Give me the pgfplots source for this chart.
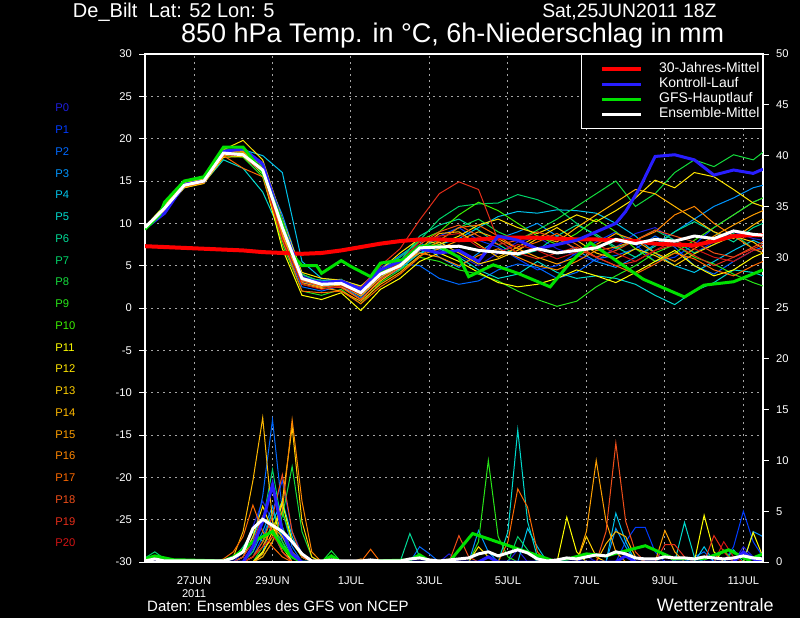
\documentclass[border=0pt]{standalone}
\usepackage{pgfplots}
\pgfplotsset{compat=1.18}
\usepackage{fontspec}
\setmainfont{Liberation Sans}
\definecolor{cP0}{RGB}{30,30,220}
\definecolor{cP1}{RGB}{0,60,255}
\definecolor{cP2}{RGB}{0,105,255}
\definecolor{cP3}{RGB}{0,150,255}
\definecolor{cP4}{RGB}{0,195,235}
\definecolor{cP5}{RGB}{0,218,205}
\definecolor{cP6}{RGB}{0,218,150}
\definecolor{cP7}{RGB}{0,212,105}
\definecolor{cP8}{RGB}{20,220,60}
\definecolor{cP9}{RGB}{40,230,25}
\definecolor{cP10}{RGB}{60,240,0}
\definecolor{cP11}{RGB}{255,255,0}
\definecolor{cP12}{RGB}{255,230,0}
\definecolor{cP13}{RGB}{255,208,0}
\definecolor{cP14}{RGB}{255,185,0}
\definecolor{cP15}{RGB}{255,160,0}
\definecolor{cP16}{RGB}{255,135,0}
\definecolor{cP17}{RGB}{252,105,0}
\definecolor{cP18}{RGB}{240,78,25}
\definecolor{cP19}{RGB}{228,45,25}
\definecolor{cP20}{RGB}{210,20,20}
\definecolor{gridgray}{RGB}{165,165,165}
\definecolor{ctlblue}{RGB}{40,30,255}
\definecolor{gfsgreen}{RGB}{0,225,0}
\definecolor{climred}{RGB}{255,0,0}
\newcommand{\tickfont}{\fontsize{5.6}{6.1}\selectfont}
\pgfplotsset{mem/.style={line width=0.5pt, forget plot},
         fat/.style={line width=1.5pt, forget plot}}
\begin{document}
\begin{tikzpicture}[x=1pt,y=1pt]
\path[use as bounding box] (0pt,0pt) rectangle (400pt,309pt);
\fill[black] (0pt,0pt) rectangle (400pt,309pt);
% titles
\node[anchor=base west, text=white, font=\fontsize{10}{11}\selectfont, inner sep=0] at (36.3pt,300.2pt) {De\_Bilt\ \ Lat: 52 Lon: 5};
\node[anchor=base east, text=white, font=\fontsize{9.7}{10.5}\selectfont, inner sep=0] at (358.5pt,300.2pt) {Sat,25JUN2011 18Z};
\node[anchor=base, text=white, font=\fontsize{13.5}{15}\selectfont, inner sep=0] at (226.3pt,287.8pt) {850 hPa Temp. in °C, 6h-Niederschlag in mm};
\node[anchor=base west, text=white, font=\fontsize{7.5}{8.5}\selectfont, inner sep=0] at (73.4pt,3.2pt) {Daten: Ensembles des GFS von NCEP};
\node[anchor=base east, text=white, font=\fontsize{9}{10}\selectfont, inner sep=0] at (387pt,3.2pt) {Wetterzentrale};
\foreach \i in {0,...,20} {\node[anchor=west, text=cP\i, font=\fontsize{5.6}{6}\selectfont, inner sep=0] at (27.5pt,{(255-\i*10.875)*1pt}) {P\i};}
% ---------- grid axis ----------
\begin{axis}[at={(72.5pt,28pt)}, anchor=south west, width=309pt, height=254pt, scale only axis,
  xmin=0, xmax=63, ymin=-30, ymax=30,
  axis line style={draw=none}, tick style={draw=none},
  xtick={5,13,21,29,37,45,53,61}, ytick={-25,-20,...,25},
  xticklabels={}, yticklabels={},
  xmajorgrids, ymajorgrids,
  grid style={gridgray, line width=0.5pt, dash pattern=on 1pt off 2pt}]
\addplot[draw=none, forget plot] coordinates {(0,0)};
\end{axis}
% ---------- precipitation axis (right) ----------
\begin{axis}[at={(72.5pt,28pt)}, anchor=south west, width=309pt, height=254pt, scale only axis,
  xmin=0, xmax=63, ymin=0, ymax=50, no markers,
  axis x line=none, axis y line*=right,
  y axis line style={white, line width=1pt, -},
  ytick={0,5,...,50},
  yticklabel style={text=white, font=\tickfont, /pgf/number format/assume math mode=true},
  major tick length=3pt, tick align=outside,
  ytick style={white, line width=0.5pt}]
\addplot[mem, cP0] coordinates {(0,0)(9,0)(10,1.0)(11,3.5)(12,6.0)(13,4.0)(14,1.5)(15,0.5)(16,0)(30,0)(31,0.8)(32,0)(37,0)(38,1.2)(39,0)(44,0)(45,0.6)(46,0)(60,0)(61,1.5)(62,0.5)(63,0)};
\addplot[mem, cP1] coordinates {(0,0)(10,0)(11,0.5)(12,2.5)(13,5.0)(14,8.0)(15,3.0)(16,0.8)(17,0)(48,0)(49,2.0)(50,3.4)(51,3.4)(52,1.0)(53,0)(59,0)(60,1.5)(61,5.0)(62,2.0)(63,0.5)};
\addplot[mem, cP2] coordinates {(0,0)(9,0)(10,0.5)(11,2.0)(12,6.5)(13,14.0)(14,5.0)(15,1.5)(16,0)(27,0)(28,1.5)(29,0.8)(30,0)(55,0)(56,0.5)(57,1.0)(58,0)(63,0)};
\addplot[mem, cP3] coordinates {(0,0)(10,0)(11,1.0)(12,3.0)(13,5.5)(14,2.0)(15,0)(33,0)(34,3.1)(35,1.0)(36,0)(47,0)(48,3.3)(49,1.5)(50,0)(61,0)(62,3.0)(63,2.5)};
\addplot[mem, cP4] coordinates {(0,0)(11,0)(12,1.0)(13,4.0)(14,6.0)(15,2.5)(16,0.5)(17,0)(38,0)(39,3.3)(40,1.5)(41,0)(47,0)(48,4.8)(49,2.0)(50,0)(56,0)(57,1.5)(58,0)(63,0)};
\addplot[mem, cP5] coordinates {(0,0)(9,0)(10,0.5)(11,2.5)(12,4.5)(13,3.0)(14,1.0)(15,0)(36,0)(37,3.0)(38,13.0)(39,4.0)(40,0.5)(41,0)(54,0)(55,3.9)(56,0.5)(57,0)(63,0)};
\addplot[mem, cP6] coordinates {(0,0)(8,0)(9,0.3)(10,1.5)(11,3.0)(12,2.0)(13,5.0)(14,2.5)(15,0.5)(16,0)(26,0)(27,2.8)(28,0.5)(29,0)(59,0)(60,1.2)(61,0)(63,0)};
\addplot[mem, cP7] coordinates {(0,0.4)(1,1.0)(2,0.3)(3,0)(10,0)(11,1.0)(12,4.0)(13,9.1)(14,3.5)(15,1.0)(16,0)(37,0)(38,2.5)(39,1.2)(40,0)(63,0)};
\addplot[mem, cP8] coordinates {(0,0)(11,0)(12,0.5)(13,2.0)(14,4.5)(15,9.4)(16,3.0)(17,0.5)(18,0)(19,1.1)(20,0)(63,0)};
\addplot[mem, cP9] coordinates {(0,0)(11,0)(12,1.5)(13,3.5)(14,2.0)(15,0.5)(16,0)(33,0)(34,2.0)(35,10.0)(36,2.5)(37,0.5)(38,0)(52,0)(53,0.8)(54,0)(63,0)};
\addplot[mem, cP10] coordinates {(0,0.2)(1,0.6)(2,0)(10,0)(11,0.5)(12,2.0)(13,3.5)(14,5.0)(15,2.0)(16,0.5)(17,0)(58,0)(59,1.2)(60,0)(63,0)};
\addplot[mem, cP11] coordinates {(0,0)(11,0)(12,1.0)(13,2.5)(14,5.8)(15,2.0)(16,0.5)(17,0)(42,0)(43,4.4)(44,1.0)(45,0)(56,0)(57,4.6)(58,1.0)(59,0)(61,0)(62,2.9)(63,0.5)};
\addplot[mem, cP12] coordinates {(0,0)(9,0)(10,0.5)(11,2.5)(12,5.5)(13,3.0)(14,1.5)(15,0)(33,0)(34,1.5)(35,0.5)(36,0)(63,0)};
\addplot[mem, cP13] coordinates {(0,0)(11,0)(12,0.8)(13,3.0)(14,6.0)(15,13.3)(16,4.0)(17,0.5)(18,0)(44,0)(45,2.5)(46,0.5)(47,0)(63,0)};
\addplot[mem, cP14] coordinates {(0,0)(8,0)(9,0.5)(10,3.0)(11,8.0)(12,14.2)(13,4.0)(14,1.0)(15,0)(46,0)(47,1.8)(48,3.0)(49,2.5)(50,0.5)(51,0)(63,0)};
\addplot[mem, cP15] coordinates {(0,0)(10,0)(11,0.5)(12,1.5)(13,3.5)(14,2.5)(15,1.0)(16,0)(44,0)(45,3.0)(46,10.0)(47,4.0)(48,1.0)(49,0)(52,0)(53,3.1)(54,1.0)(55,0)(63,0)};
\addplot[mem, cP16] coordinates {(0,0)(11,0)(12,0.5)(13,2.0)(14,5.0)(15,14.0)(16,6.0)(17,1.0)(18,0)(21,0)(22,0.3)(23,0)(63,0)};
\addplot[mem, cP17] coordinates {(0,0)(7,0)(8,0.3)(9,1.0)(10,2.5)(11,5.6)(12,3.0)(13,1.5)(14,0.5)(15,0)(22,0)(23,1.25)(24,0)(36,0)(37,2.0)(38,7.2)(39,5.4)(40,1.0)(41,0)(63,0)};
\addplot[mem, cP18] coordinates {(0,0)(10,0)(11,0.5)(12,2.0)(13,4.5)(14,8.6)(15,3.0)(16,0.5)(17,0)(31,0)(32,2.6)(33,0.5)(34,0)(46,0)(47,3.0)(48,11.7)(49,4.0)(50,1.0)(51,0)(63,0)};
\addplot[mem, cP19] coordinates {(0,0)(9,0)(10,0.5)(11,2.0)(12,4.5)(13,3.0)(14,1.0)(15,0)(52,0)(53,1.7)(54,1.7)(55,0.5)(56,0)(57,0)(58,2.6)(59,1.0)(60,0)(63,0)};
\addplot[mem, cP20] coordinates {(0,0)(10,0)(11,0.5)(12,1.5)(13,2.5)(14,1.5)(15,0.5)(16,0)(58,0)(59,2.0)(60,0.5)(61,0)(63,0)};
% GFS main run
\addplot[fat, gfsgreen] coordinates {(0,0.3)(1,0.6)(2,0.4)(3,0.2)(4,0.2)(8,0.1)(9,0.5)(10,1.2)(11,2.0)(12,2.5)(13,3.0)(14,1.5)(15,0.5)(16,0)(18,0)(19,0.6)(20,0)(27,0.2)(28,0.7)(29,0.1)(31,0)(33.4,2.8)(42,0)(45,0.8)(47,0.6)(51,1.6)(54,0.3)(57,0.3)(59.5,1.2)(61.5,0.2)(63,0.8)};
% control run
\addplot[fat, ctlblue] coordinates {(0,0)(10,0)(11,1.5)(12,4.0)(13,7.6)(14,3.0)(15,0.8)(16,0)(34,0)(35,0.5)(36,0)(48,0)(49,0.6)(50,0)(60,0)(61,1.0)(62,0.3)(63,0)};
% ensemble mean
\addplot[fat, white] coordinates {(0,0.1)(1,0.3)(2,0.1)(8,0.1)(9,0.4)(10,1.0)(11,3.3)(12,4.2)(13,3.6)(14,3.0)(15,2.0)(16,0.8)(17,0.1)(18,0.1)(19,0.2)(20,0.1)(22,0.1)(23,0.2)(24,0.1)(26,0.1)(27,0.3)(28,0.4)(29,0.2)(30,0.1)(32,0.3)(33,0.4)(34,0.8)(35,1.0)(36,0.6)(37,0.9)(38,1.2)(39,0.9)(40,0.3)(41,0.1)(42,0.2)(43,0.4)(44,0.3)(45,0.5)(46,0.7)(47,0.6)(48,1.0)(49,0.8)(50,0.4)(51,0.3)(52,0.3)(53,0.5)(54,0.4)(55,0.4)(56,0.3)(57,0.5)(58,0.4)(59,0.3)(60,0.4)(61,0.6)(62,0.4)(63,0.3)};
\end{axis}
% ---------- temperature axis (left) ----------
\begin{axis}[at={(72.5pt,28pt)}, anchor=south west, width=309pt, height=254pt, scale only axis,
  xmin=0, xmax=63, ymin=-30, ymax=30, no markers,
  axis line style={white, line width=1pt},
  ytick={-30,-25,...,30}, ytick pos=left,
  xtick={5,13,21,29,37,45,53,61},
  xticklabels={{27JUN\\2011},29JUN,1JUL,3JUL,5JUL,7JUL,9JUL,11JUL},
  xtick pos=bottom, xtick style={draw=none},
  ytick style={white, line width=0.5pt},
  major tick length=3pt, tick align=outside,
  yticklabel style={text=white, font=\tickfont, /pgf/number format/assume math mode=true},
  xticklabel style={text=white, font=\tickfont, align=center, yshift=-1pt},
  legend style={at={(1,1)}, anchor=north east, fill=black, draw=white, line width=0.5pt, text=white,
    font=\fontsize{7}{8}\selectfont, inner xsep=1pt, inner ysep=3.6pt, row sep=0pt,
    nodes={inner sep=0.5pt},
    /tikz/every odd column/.append style={column sep=6pt},
    /tikz/every even column/.append style={text height=5pt, text depth=1.2pt}},
  legend cell align=left,
  legend image code/.code={\path (-8.5pt,0pt) (21pt,0pt); \draw[#1] (0pt,0pt) -- (19.5pt,0pt);}]
\addlegendimage{climred, line width=2pt}
\addlegendentry{30-Jahres-Mittel}
\addlegendimage{ctlblue, line width=1.5pt}
\addlegendentry{Kontroll-Lauf}
\addlegendimage{gfsgreen, line width=1.5pt}
\addlegendentry{GFS-Hauptlauf}
\addlegendimage{white, line width=1.5pt}
\addlegendentry{Ensemble-Mittel}
\addplot[mem, cP0] coordinates {(0,9.4)(2,11.5)(4,14.3)(6,15.1)(8,18.0)(10,18.9)(12,17.2)(14,10.5)(16,3.8)(18,3.2)(20,3.3)(22,2.5)(24,4.8)(26,6.0)(28,7.5)(30,6.8)(32,6.2)(34,5.0)(36,6.5)(38,7.8)(40,8.4)(42,7.0)(44,6.2)(46,5.5)(48,7.2)(50,8.8)(52,9.5)(54,8.0)(56,6.5)(58,7.8)(60,9.0)(62,8.2)(63,8.0)};
\addplot[mem, cP1] coordinates {(0,9.5)(2,11.9)(4,14.6)(6,15.2)(8,18.6)(10,18.5)(12,16.8)(14,9.0)(16,3.0)(18,2.5)(20,3.0)(22,1.8)(24,3.5)(26,4.5)(28,6.8)(30,8.5)(32,9.5)(34,8.0)(36,7.2)(38,5.8)(40,4.5)(42,5.0)(44,6.5)(46,7.8)(48,9.0)(50,7.5)(52,5.5)(54,6.0)(56,7.5)(58,9.5)(60,11.0)(62,12.5)(63,13.0)};
\addplot[mem, cP2] coordinates {(0,9.6)(2,11.6)(4,14.4)(6,14.8)(8,18.2)(10,18.0)(12,15.8)(14,8.0)(16,2.5)(18,2.0)(20,2.6)(22,1.2)(24,3.8)(26,5.2)(28,5.0)(30,3.5)(32,2.8)(34,3.2)(36,4.5)(38,5.2)(40,4.8)(42,3.5)(44,4.2)(46,5.8)(48,6.2)(50,7.0)(52,8.5)(54,7.2)(56,5.0)(58,4.0)(60,5.5)(62,6.8)(63,7.2)};
\addplot[mem, cP3] coordinates {(0,9.5)(2,11.8)(4,14.7)(6,15.0)(8,18.4)(10,18.3)(12,16.5)(14,11.0)(16,4.0)(18,3.0)(20,2.8)(22,2.0)(24,4.5)(26,6.2)(28,7.8)(30,6.0)(32,4.8)(34,6.5)(36,8.2)(38,9.0)(40,10.0)(42,8.5)(44,6.8)(46,5.5)(48,4.8)(50,6.0)(52,7.5)(54,9.0)(56,10.5)(58,12.0)(60,13.0)(62,14.2)(63,14.5)};
\addplot[mem, cP4] coordinates {(0,9.5)(2,11.7)(4,14.5)(6,15.3)(8,18.5)(10,18.7)(12,18.0)(14,16.0)(16,5.5)(18,3.5)(20,3.2)(22,2.6)(24,4.2)(26,5.0)(28,6.5)(30,7.5)(32,8.2)(34,9.5)(36,10.8)(38,11.4)(40,11.2)(42,11.6)(44,11.5)(46,11.2)(48,10.0)(50,8.5)(52,6.5)(54,5.0)(56,4.2)(58,5.5)(60,6.8)(62,8.0)(63,7.5)};
\addplot[mem, cP5] coordinates {(0,9.4)(2,11.6)(4,14.2)(6,14.8)(8,17.5)(10,16.5)(12,13.7)(14,8.5)(16,3.5)(18,3.3)(20,3.0)(22,2.2)(24,3.8)(26,4.6)(28,6.5)(30,7.0)(32,6.0)(34,4.5)(36,3.5)(38,4.0)(40,5.5)(42,4.2)(44,3.5)(46,3.8)(48,3.5)(50,2.8)(52,1.5)(54,0.4)(56,2.0)(58,3.0)(60,4.5)(62,4.2)(63,3.8)};
\addplot[mem, cP6] coordinates {(0,9.5)(2,11.9)(4,14.6)(6,15.1)(8,18.3)(10,18.2)(12,16.0)(14,8.5)(16,3.2)(18,2.6)(20,2.9)(22,1.5)(24,3.9)(26,5.5)(28,8.5)(30,9.8)(32,10.5)(34,9.2)(36,7.5)(38,6.2)(40,6.8)(42,8.5)(44,9.8)(46,8.7)(48,7.2)(50,6.0)(52,7.3)(54,9.0)(56,10.2)(58,9.0)(60,7.8)(62,9.5)(63,10.0)};
\addplot[mem, cP7] coordinates {(0,9.6)(2,12.0)(4,14.8)(6,15.2)(8,18.8)(10,18.6)(12,16.8)(14,9.8)(16,3.5)(18,2.7)(20,3.1)(22,2.2)(24,4.5)(26,6.0)(28,8.0)(30,10.5)(32,12.0)(34,12.3)(36,12.4)(38,13.4)(40,12.8)(42,11.8)(44,10.0)(46,8.5)(48,7.0)(50,8.0)(52,9.2)(54,8.0)(56,6.5)(58,7.5)(60,8.8)(62,7.0)(63,6.5)};
\addplot[mem, cP8] coordinates {(0,9.5)(2,12.2)(4,14.9)(6,15.3)(8,19.0)(10,19.0)(12,17.0)(14,10.0)(16,4.0)(18,3.1)(20,3.4)(22,2.0)(24,4.6)(26,5.6)(28,7.2)(30,8.0)(32,9.5)(34,10.5)(36,9.0)(38,8.0)(40,9.2)(42,10.5)(44,12.0)(46,13.5)(48,15.0)(50,12.0)(52,13.5)(54,16.0)(56,17.5)(58,16.7)(60,18.1)(62,17.5)(63,18.4)};
\addplot[mem, cP9] coordinates {(0,9.4)(2,11.7)(4,14.4)(6,14.9)(8,18.0)(10,17.8)(12,15.5)(14,7.5)(16,2.0)(18,1.5)(20,2.2)(22,0.5)(24,3.0)(26,4.5)(28,6.0)(30,5.5)(32,4.5)(34,4.0)(36,3.2)(38,2.0)(40,1.0)(42,0.2)(44,0.8)(46,2.5)(48,3.8)(50,5.0)(52,6.5)(54,7.5)(56,6.0)(58,5.2)(60,4.0)(62,3.0)(63,2.6)};
\addplot[mem, cP10] coordinates {(0,9.5)(2,11.9)(4,14.5)(6,15.0)(8,18.4)(10,18.3)(12,16.6)(14,9.2)(16,3.4)(18,2.9)(20,3.2)(22,1.9)(24,4.2)(26,5.3)(28,8.0)(30,9.0)(32,11.0)(34,12.5)(36,11.5)(38,10.0)(40,8.5)(42,7.5)(44,8.8)(46,10.5)(48,9.0)(50,7.0)(52,5.5)(54,6.5)(56,8.0)(58,9.5)(60,11.0)(62,12.5)(63,13.0)};
\addplot[mem, cP11] coordinates {(0,9.5)(2,11.6)(4,14.3)(6,14.8)(8,18.0)(10,18.2)(12,15.8)(14,7.0)(16,1.5)(18,1.0)(20,1.8)(22,-0.3)(24,2.2)(26,3.5)(28,5.5)(30,6.5)(32,5.5)(34,4.2)(36,3.0)(38,2.5)(40,2.8)(42,3.5)(44,4.5)(46,3.8)(48,3.0)(50,4.2)(52,5.5)(54,6.8)(56,5.0)(58,3.8)(60,4.5)(62,6.0)(63,6.5)};
\addplot[mem, cP12] coordinates {(0,9.6)(2,12.1)(4,14.8)(6,15.2)(8,18.7)(10,19.8)(12,17.5)(14,10.5)(16,4.2)(18,3.5)(20,3.3)(22,2.6)(24,4.5)(26,6.5)(28,8.2)(30,7.5)(32,8.5)(34,9.8)(36,10.5)(38,9.5)(40,8.8)(42,9.8)(44,11.0)(46,10.2)(48,11.5)(50,13.0)(52,15.1)(54,14.2)(56,16.0)(58,15.5)(60,14.0)(62,12.4)(63,12.0)};
\addplot[mem, cP13] coordinates {(0,9.4)(2,11.5)(4,14.2)(6,14.7)(8,17.8)(10,17.9)(12,16.0)(14,8.8)(16,2.8)(18,2.3)(20,2.5)(22,1.0)(24,3.2)(26,4.8)(28,6.8)(30,7.8)(32,6.5)(34,5.2)(36,5.8)(38,6.8)(40,8.2)(42,9.5)(44,8.0)(46,6.5)(48,5.8)(50,7.0)(52,6.2)(54,5.0)(56,6.4)(58,7.5)(60,8.5)(62,7.8)(63,7.0)};
\addplot[mem, cP14] coordinates {(0,9.5)(2,11.8)(4,14.6)(6,15.0)(8,18.5)(10,18.4)(12,16.9)(14,9.6)(16,3.3)(18,2.5)(20,2.7)(22,1.4)(24,3.6)(26,5.0)(28,7.0)(30,8.8)(32,9.0)(34,7.5)(36,6.0)(38,7.2)(40,8.5)(42,7.8)(44,9.5)(46,11.0)(48,12.5)(50,14.0)(52,13.5)(54,12.0)(56,10.5)(58,9.0)(60,8.2)(62,9.8)(63,10.5)};
\addplot[mem, cP15] coordinates {(0,9.5)(2,11.7)(4,14.4)(6,14.9)(8,18.1)(10,18.0)(12,16.2)(14,8.5)(16,3.0)(18,2.4)(20,2.0)(22,0.8)(24,2.8)(26,4.2)(28,6.2)(30,7.0)(32,8.0)(34,9.0)(36,8.2)(38,7.0)(40,6.0)(42,5.2)(44,6.0)(46,7.5)(48,8.8)(50,8.0)(52,6.5)(54,5.5)(56,7.0)(58,8.5)(60,9.8)(62,11.0)(63,11.5)};
\addplot[mem, cP16] coordinates {(0,9.6)(2,12.0)(4,14.7)(6,15.1)(8,18.6)(10,18.5)(12,17.0)(14,10.2)(16,3.6)(18,2.8)(20,3.0)(22,2.3)(24,4.0)(26,5.2)(28,6.5)(30,6.0)(32,5.0)(34,6.2)(36,7.0)(38,6.0)(40,5.0)(42,4.5)(44,5.5)(46,6.8)(48,7.2)(50,8.0)(52,9.0)(54,11.0)(56,12.0)(58,10.0)(60,8.5)(62,7.0)(63,6.5)};
\addplot[mem, cP17] coordinates {(0,9.4)(2,11.6)(4,14.3)(6,14.8)(8,18.0)(10,16.5)(12,15.5)(14,8.0)(16,2.0)(18,1.8)(20,2.0)(22,0.5)(24,2.5)(26,4.0)(28,6.0)(30,8.0)(32,9.5)(34,9.8)(36,8.5)(38,7.0)(40,7.8)(42,8.8)(44,7.5)(46,6.0)(48,5.0)(50,4.0)(52,5.2)(54,6.5)(56,5.8)(58,4.5)(60,3.8)(62,5.0)(63,5.5)};
\addplot[mem, cP18] coordinates {(0,9.5)(2,11.8)(4,14.5)(6,15.0)(8,18.2)(10,18.0)(12,16.4)(14,9.0)(16,3.2)(18,2.6)(20,2.4)(22,1.0)(24,3.4)(26,4.8)(28,7.5)(30,9.0)(32,9.8)(34,8.5)(36,7.5)(38,8.0)(40,9.0)(42,8.2)(44,7.0)(46,6.0)(48,6.8)(50,8.0)(52,9.2)(54,8.5)(56,7.8)(58,6.5)(60,6.0)(62,7.2)(63,7.8)};
\addplot[mem, cP19] coordinates {(0,9.5)(2,11.9)(4,14.6)(6,15.1)(8,18.4)(10,18.2)(12,16.5)(14,9.5)(16,3.5)(18,3.0)(20,3.2)(22,2.4)(24,5.0)(26,7.0)(28,10.4)(30,13.5)(32,14.9)(34,14.0)(36,8.0)(38,6.5)(40,5.8)(42,6.5)(44,7.2)(46,6.0)(48,5.0)(50,5.5)(52,6.8)(54,7.5)(56,6.2)(58,5.0)(60,6.0)(62,7.0)(63,7.5)};
\addplot[mem, cP20] coordinates {(0,9.4)(2,11.7)(4,14.4)(6,14.9)(8,18.1)(10,18.0)(12,16.0)(14,8.2)(16,2.8)(18,2.2)(20,2.6)(22,1.6)(24,3.8)(26,5.5)(28,7.8)(30,8.5)(32,8.8)(34,7.2)(36,6.5)(38,7.5)(40,6.8)(42,5.8)(44,6.6)(46,7.5)(48,6.5)(50,5.5)(52,6.8)(54,8.0)(56,7.0)(58,6.0)(60,5.5)(62,6.8)(63,7.0)};
% 30-year mean
\addplot[forget plot, climred, line width=2pt] coordinates {(0,7.3)(2,7.2)(4,7.1)(6,7.0)(8,6.9)(10,6.8)(12,6.6)(14,6.5)(16,6.4)(18,6.5)(20,6.8)(22,7.2)(24,7.6)(26,7.9)(28,8.1)(30,8.1)(32,8.0)(34,8.1)(36,8.3)(38,8.3)(40,8.3)(42,8.2)(44,8.1)(46,8.1)(48,8.0)(50,7.9)(52,7.6)(54,7.5)(56,7.4)(58,7.9)(60,8.5)(62,8.6)(63,8.6)};
% control run
\addplot[fat, ctlblue] coordinates {(0,9.4)(2,11.2)(4,14.6)(6,15.0)(8,18.5)(10,18.8)(12,17.0)(14,10.0)(16,3.5)(18,3.0)(20,3.2)(22,2.2)(24,4.5)(26,5.5)(28,7.0)(30,6.5)(32,6.8)(34,5.5)(36,8.5)(38,8.0)(40,7.0)(42,7.5)(44,8.0)(46,9.0)(48,10.0)(49,11.4)(50.4,14.1)(52,17.9)(54,18.1)(56,17.5)(58,15.7)(60,16.3)(62,15.9)(63,16.4)};
% GFS main run
\addplot[fat, gfsgreen] coordinates {(0,9.3)(1.5,11.0)(2,12.5)(4,15.0)(6,15.5)(8,19.0)(10,19.0)(12,16.0)(14,10.0)(15,6.3)(16,5.0)(17.5,5.0)(18,4.1)(20,5.6)(21,4.9)(23,3.7)(24,5.3)(26.3,5.7)(28,7.3)(30,7.3)(32,6.0)(33,3.7)(35.5,5.1)(38,4.1)(41.3,2.5)(43.3,5.3)(45.4,7.7)(47.4,6.1)(50.8,3.4)(55,1.3)(57,2.7)(60,3.1)(63,4.5)};
% ensemble mean
\addplot[fat, white] coordinates {(0,9.5)(2,11.8)(4,14.5)(6,15.0)(8,18.3)(10,18.1)(12,16.3)(14,9.5)(16,3.5)(18,2.8)(20,2.9)(22,1.8)(24,4.0)(26,5.0)(28,7.1)(30,7.2)(32,7.3)(34,6.8)(36,6.6)(38,6.4)(40,7.0)(42,6.5)(44,6.8)(46,7.1)(48,8.1)(50,7.6)(52,8.1)(54,7.9)(56,8.5)(58,8.2)(60,9.1)(62,8.7)(63,8.6)};
\end{axis}
\end{tikzpicture}
\end{document}
